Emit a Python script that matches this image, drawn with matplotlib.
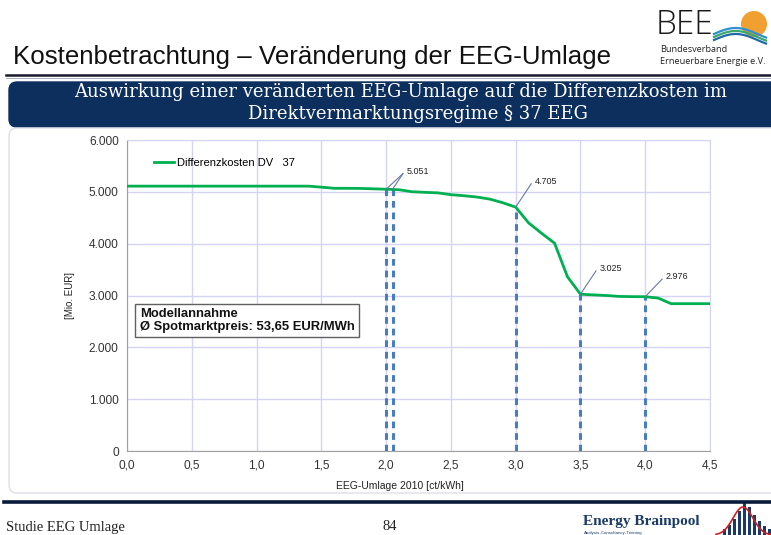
import matplotlib
matplotlib.use("Agg")
import matplotlib.pyplot as plt
from matplotlib.patches import FancyBboxPatch, Circle, Rectangle
import numpy as np

# ---- data ----
umlage = [0.0, 0.1, 0.2, 0.3, 0.4, 0.5, 0.6, 0.7, 0.8, 0.9, 1.0, 1.1, 1.2, 1.3, 1.4,
          1.5, 1.6, 1.7, 1.8, 1.9, 2.0, 2.1, 2.2, 2.3, 2.4, 2.5, 2.6, 2.7, 2.8, 2.9,
          3.0, 3.1, 3.2, 3.3, 3.4, 3.5, 3.6, 3.7, 3.8, 3.9, 4.0, 4.1, 4.2, 4.3, 4.4, 4.5]
kosten = [5110, 5110, 5110, 5110, 5110, 5110, 5110, 5110, 5110, 5110, 5110, 5110, 5110, 5110, 5110,
          5090, 5068, 5068, 5066, 5058, 5051, 5040, 5002, 4990, 4980, 4945, 4925, 4900, 4860, 4790,
          4705, 4400, 4200, 4010, 3360, 3025, 3012, 3000, 2982, 2978, 2976, 2950, 2842, 2842, 2842, 2842]
marker_x = [2.0, 2.05, 3.0, 3.5, 4.0]
marker_y = [5051, 5051, 4705, 3025, 2976]
label_x = [2.0, 3.0, 3.5, 4.0]
label_y = [5051, 4705, 3025, 2976]
label_txt = ["5.051", "4.705", "3.025", "2.976"]
xticks = [0.0, 0.5, 1.0, 1.5, 2.0, 2.5, 3.0, 3.5, 4.0, 4.5]
xticklabels = ["0,0", "0,5", "1,0", "1,5", "2,0", "2,5", "3,0", "3,5", "4,0", "4,5"]
yticks = [0, 1000, 2000, 3000, 4000, 5000, 6000]
yticklabels = ["0", "1.000", "2.000", "3.000", "4.000", "5.000", "6.000"]

W, H = 771, 535
fig = plt.figure(figsize=(W / 100, H / 100), dpi=100)
fig.patch.set_facecolor("white")

# background axes in pixel coordinates for slide decoration
bg = fig.add_axes([0, 0, 1, 1])
bg.set_xlim(0, W)
bg.set_ylim(H, 0)
bg.axis("off")

NAVY = "#0c2f5e"
SANS = ["Liberation Sans", "DejaVu Sans"]
SERIF = ["DejaVu Serif", "Liberation Serif"]

# ---- slide decoration ----
bg.text(13, 57, "Kostenbetrachtung \u2013 Veränderung der EEG-Umlage",
        fontsize=18.6, family=["Liberation Sans", "DejaVu Sans"],
        color="#111111", va="center", ha="left")
bg.plot([6, 771], [75, 75], color="#1a1a2e", lw=1.8)
bg.plot([6, 771], [77.5, 77.5], color="#9aa4b8", lw=0.6)

bg.add_patch(FancyBboxPatch((9, 82), 780, 45, boxstyle="round,pad=0,rounding_size=8",
                            facecolor=NAVY, edgecolor=NAVY))
bg.text(401, 92, "Auswirkung einer veränderten EEG-Umlage auf die Differenzkosten im",
        fontsize=13.0, family=SERIF, color="white", ha="center", va="center")
bg.text(418, 114, "Direktvermarktungsregime § 37 EEG",
        fontsize=13.0, family=SERIF, color="white", ha="center", va="center")

# chart frame
bg.add_patch(FancyBboxPatch((9, 128), 780, 365, boxstyle="round,pad=0,rounding_size=8",
                            facecolor="none", edgecolor="#dde0e8", lw=1.0))

# BEE logo
bg.text(656, 25, "BEE", fontsize=24, family=["Open Sans", "DejaVu Sans"],
        color="#1a1a1a", ha="left", va="center", fontweight="light")
bg.add_patch(Circle((754, 24), 13, facecolor="#f0a030", edgecolor="none"))
wx = np.linspace(714, 766, 40)
for off, col in [(0, "#2f8fd0"), (3, "#3aa86a"), (6, "#1f6aa8")]:
    wy = 34 + off - 6 * np.sin((wx - 714) / 52 * np.pi * 1.2)
    bg.plot(wx, wy, color=col, lw=1.6)
bg.text(660, 49, "Bundesverband", fontsize=6.6, family=["Open Sans", "DejaVu Sans"],
        color="#222222", ha="left", va="center")
bg.text(660, 62, "Erneuerbare Energie e.V.", fontsize=6.6,
        family=["Open Sans", "DejaVu Sans"], color="#222222", ha="left", va="center")

# footer
bg.plot([4, 771], [502, 502], color="#0a1a3a", lw=2.6)
bg.text(6, 527, "Studie EEG Umlage", fontsize=10.5, family=["Liberation Serif"],
        color="#222222", ha="left", va="center")
bg.text(390, 527, "84", fontsize=10.5, family=["Liberation Serif"], color="#222222",
        ha="center", va="center")
bg.text(583, 522, "Energy Brainpool", fontsize=11, family=["Liberation Serif"],
        fontweight="bold", color="#1b3a66", ha="left", va="center")
bg.text(584, 533, "Analysis-Consultancy-Training", fontsize=3.2, family=SANS,
        color="#1b3a66", ha="left", va="center")
bars_x = [723, 728, 733, 738, 743, 748, 753, 758, 763, 768]
bars_h = [6, 10, 16, 24, 34, 28, 20, 14, 9, 6]
for bx, bh in zip(bars_x, bars_h):
    bg.add_patch(Rectangle((bx, 535 - bh), 3, bh, facecolor="#1b3a66", edgecolor="none"))
cx = np.linspace(716, 771, 40)
cy = 535 - 28 * np.exp(-((cx - 743) / 14) ** 2)
bg.plot(cx, cy, color="#d02020", lw=1.2)

# ---- chart ----
ax = fig.add_axes([127 / W, 1 - 451 / H, (710 - 127) / W, (451 - 140) / H])
ax.set_xlim(0, 4.5)
ax.set_ylim(0, 6000)
ax.set_xticks(xticks)
ax.set_xticklabels(xticklabels)
ax.set_yticks(yticks)
ax.set_yticklabels(yticklabels)
ax.grid(True, color="#d4d4f4", lw=1.0)
ax.set_axisbelow(True)
for s in ["top", "right"]:
    ax.spines[s].set_color("#d4d4f4")
for s in ["left", "bottom"]:
    ax.spines[s].set_color("#a0a0a0")
ax.tick_params(length=0, labelsize=8.6, colors="#333333", pad=6)
for lab in ax.get_xticklabels() + ax.get_yticklabels():
    lab.set_family(SANS)

ax.plot(umlage, kosten, color="#00b050", lw=2.0, label="Differenzkosten DV   37", zorder=4)

for mx, my in zip(marker_x, marker_y):
    ax.plot([mx, mx], [0, my], color="#4a7cc0", lw=2.2, dashes=(2.2, 1.6), zorder=3)

label_off = [(0.13, 300), (0.12, 450), (0.12, 450), (0.13, 340)]
for lx, ly, t, (dx, dy) in zip(label_x, label_y, label_txt, label_off):
    ax.plot([lx, lx + dx], [ly, ly + dy], color="#6878a0", lw=0.8, zorder=5)
    ax.text(lx + dx + 0.03, ly + dy + 50, t, fontsize=6.5, family=SANS, color="#222222",
            ha="left", va="center", zorder=6)
ax.plot([2.05, 2.0 + 0.13], [5051, 5051 + 300], color="#6878a0", lw=0.8, zorder=5)

ax.legend(loc="upper left", bbox_to_anchor=(0.03, 0.975), frameon=False,
          prop={"family": SANS, "size": 8}, handlelength=1.8, handletextpad=0.2)

ax.text(0.10, 2520, "Modellannahme\nØ Spotmarktpreis: 53,65 EUR/MWh", fontsize=9.4,
        family=SANS, fontweight="bold", color="#111111", ha="left", va="center",
        linespacing=1.05,
        bbox=dict(boxstyle="square,pad=0.35", facecolor="white", edgecolor="#606060", lw=1.0),
        zorder=7)

ax.set_ylabel("[Mio. EUR]", fontsize=7, family=SANS, color="#222222", labelpad=10)
bg.text(400, 486, "EEG-Umlage 2010 [ct/kWh]", fontsize=7.5, family=SANS,
        color="#222222", ha="center", va="center")

fig.savefig("out.png", dpi=100)
